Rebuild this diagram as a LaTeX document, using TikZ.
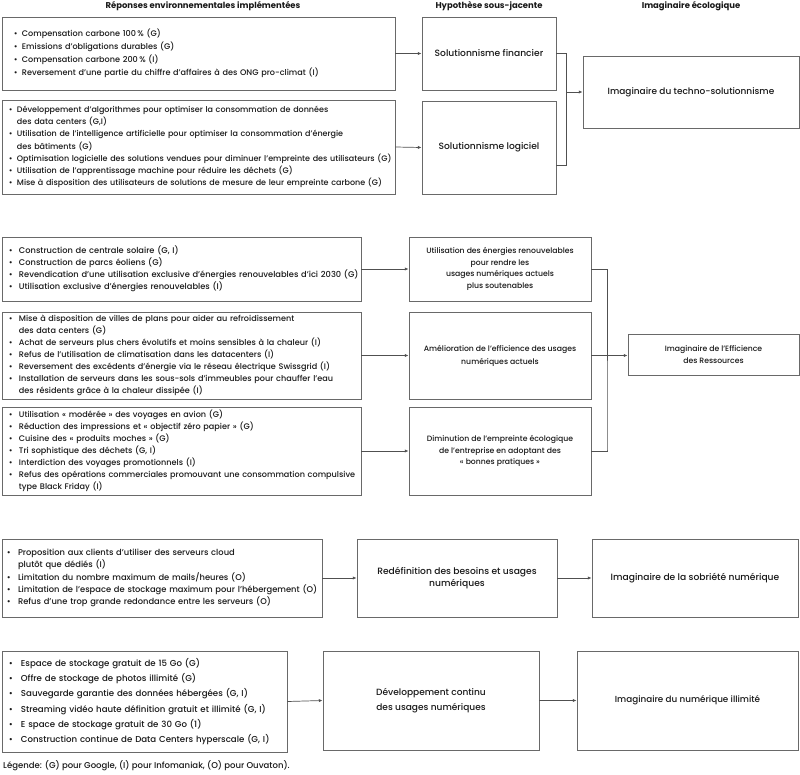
\documentclass[tikz,border=0pt]{standalone}
\usepackage{fontspec}
\IfFontExistsTF{Poppins Medium}{\setmainfont{Poppins Medium}[BoldFont={Poppins Bold}]\def\fk{0.975}}{\setmainfont{Poppins}\def\fk{1}}
\usetikzlibrary{arrows.meta}
\definecolor{boxgray}{RGB}{105,105,105}
\definecolor{linegray}{RGB}{80,80,80}
\definecolor{txt}{RGB}{25,25,25}
\newlength\bw
\newcommand\fs[2]{\fontsize{\fpeval{#1*\fk}}{#2}\selectfont}
\newcommand\B[1]{\makebox[\bw][l]{\textbullet}\mbox{#1}}
\newcommand\C[1]{\hspace*{\bw}\mbox{#1}}
\newcommand\lbox[8]{%
  \pgfmathsetmacro\tw{(#4-#2-2*#6)*0.03}%
  \pgfmathsetmacro\xs{#6*0.03}%
  \pgfmathsetmacro\mh{(#5-#3)*0.03}%
  \node[lbox, inner xsep=\xs cm, text width=\tw cm, minimum height=\mh cm, font=#7] (#1) at ({(#2+#4)/2},{(#3+#5)/2}) {#8};}
\newcommand\cbox[7]{%
  \pgfmathsetmacro\mw{(#4-#2)*0.03}%
  \pgfmathsetmacro\mh{(#5-#3)*0.03}%
  \node[cbox, minimum width=\mw cm, minimum height=\mh cm, font=#6] (#1) at ({(#2+#4)/2},{(#3+#5)/2}) {#7};}
\tikzset{
  lbox/.style={draw=boxgray, line width=0.8pt, inner ysep=0pt, align=left, text=txt},
  cbox/.style={draw=boxgray, line width=0.8pt, inner sep=0pt, align=center, text=txt},
  hdr/.style={font=\bfseries\fs{7.4}{9}, text=txt, inner sep=0pt},
  conn/.style={draw=linegray, line width=0.6pt},
  arr/.style={conn, -{Latex[length=3.2pt,width=2.8pt]}}
}
\begin{document}
\begin{tikzpicture}[x=0.03cm,y=-0.03cm]
\fill[white] (0,0) rectangle (800,775);
\useasboundingbox (0,0) rectangle (800,775);

% headers
\node[hdr] (hdA) at (203,6) {Réponses environnementales implémentées};
\node[hdr] (hdB) at (489,6) {Hypothèse sous-jacente};
\node[hdr] (hdC) at (691,6) {Imaginaire écologique};

% ---- section 1
\lbox{A1}{2}{17}{395}{90}{12}{\fs{7.1}{11.05}\setlength\bw{6.8pt}}{%
\B{Compensation carbone 100\,\% (G)}\\
\B{Emissions d’obligations durables (G)}\\
\B{Compensation carbone 200\,\% (I)}\\
\B{Reversement d’une partie du chiffre d’affaires à des ONG pro-climat (I)}}
\lbox{A2}{2}{100}{395}{194}{7}{\fs{7.0}{10.46}\setlength\bw{6.8pt}}{%
\B{Développement d’algorithmes pour optimiser la consommation de données}\\
\C{des data centers (G,I)}\\
\B{Utilisation de l’intelligence artificielle pour optimiser la consommation d’énergie}\\
\C{des bâtiments (G)}\\
\B{Optimisation logicielle des solutions vendues pour diminuer l’empreinte des utilisateurs (G)}\\
\B{Utilisation de l’apprentissage machine pour réduire les déchets (G)}\\
\B{Mise à disposition des utilisateurs de solutions de mesure de leur empreinte carbone (G)}}
\cbox{H1}{422}{17}{556}{90}{\fs{8.0}{11}}{Solutionnisme financier}
\cbox{H2}{422}{101}{556}{194}{\fs{8.0}{11}}{Solutionnisme logiciel}
\cbox{I1}{583}{56}{799}{128}{\fs{7.85}{11}}{Imaginaire du techno-solutionnisme}

\draw[arr] (A1.east) -- (H1.west);
\draw[arr] (A2.east) -- (H2.west);
\coordinate (j1) at (566,165);
\draw[conn] (H1.east) -| (j1) -- (j1 -| H2.east);
\draw[arr] (j1 |- I1.west) -- (I1.west);

% ---- section 2
\lbox{B1}{2}{237}{361}{301}{7}{\fs{7.25}{10.2}\setlength\bw{8.5pt}}{%
\B{Construction de centrale solaire (G, I)}\\
\B{Construction de parcs éoliens (G)}\\
\B{Revendication d’une utilisation exclusive d’énergies renouvelables d’ici 2030 (G)}\\
\B{Utilisation exclusive d’énergies renouvelables (I)}}
\lbox{B2}{2}{312}{361}{399}{7}{\fs{7.1}{10.2}\setlength\bw{8.5pt}}{%
\B{Mise à disposition de villes de plans pour aider au refroidissement}\\
\C{des data centers (G)}\\
\B{Achat de serveurs plus chers évolutifs et moins sensibles à la chaleur (I)}\\
\B{Refus de l’utilisation de climatisation dans les datacenters (I)}\\
\B{Reversement des excédents d’énergie via le réseau électrique Swissgrid (I)}\\
\B{Installation de serveurs dans les sous-sols d’immeubles pour chauffer l’eau}\\
\C{des résidents grâce à la chaleur dissipée (I)}}
\lbox{B3}{2}{407}{361}{495}{7}{\fs{7.1}{10.2}\setlength\bw{8.5pt}}{%
\B{Utilisation «~modérée~» des voyages en avion (G)}\\
\B{Réduction des impressions et «~objectif zéro papier~» (G)}\\
\B{Cuisine des «~produits moches~» (G)}\\
\B{Tri sophistique des déchets (G, I)}\\
\B{Interdiction des voyages promotionnels (I)}\\
\B{Refus des opérations commerciales promouvant une consommation compulsive}\\
\C{type Black Friday (I)}}
\cbox{H3}{409}{237}{591}{301}{\fs{6.75}{10}}{Utilisation des énergies renouvelables\\pour rendre les\\usages numériques actuels\\plus soutenables}
\cbox{H4}{409}{312}{591}{399}{\fs{6.75}{11}}{Amélioration de l’efficience des usages\\numériques actuels}
\cbox{H5}{409}{407}{591}{495}{\fs{6.75}{9.8}}{Diminution de l’empreinte écologique\\de l’entreprise en adoptant des\\«~bonnes pratiques~»}
\cbox{I2}{628}{334}{799}{375}{\fs{6.75}{10.2}}{Imaginaire de l’Efficience\\des Ressources}

\draw[arr] (B1.east) -- (H3.west);
\draw[arr] (B2.east) -- (H4.west);
\draw[arr] (B3.east) -- (H5.west);
\coordinate (j2) at (607,450);
\draw[conn] (H3.east) -| (j2) |- (H5.east);
\draw[arr] (H4.east) -- (H4.east -| I2.west);

% ---- section 3
\lbox{C1}{2}{539}{322}{617}{5}{\fs{7.3}{10.6}\setlength\bw{9.4pt}}{%
\B{Proposition aux clients d’utiliser des serveurs cloud}\\
\C{plutôt que dédiés (I)}\\
\B{Limitation du nombre maximum de mails/heures (O)}\\
\B{Limitation de l’espace de stockage maximum pour l’hébergement (O)}\\
\B{Refus d’une trop grande redondance entre les serveurs (O)}}
\cbox{H6}{357}{539}{557}{617}{\fs{8.0}{11}}{Redéfinition des besoins et usages\\numériques}
\cbox{I3}{592}{539}{798}{617}{\fs{8.0}{11}}{Imaginaire de la sobriété numérique}
\draw[arr] (C1.east) -- (H6.west);
\draw[arr] (H6.east) -- (I3.west);

% ---- section 4
\lbox{D1}{2}{651}{287}{752}{7}{\fs{7.55}{13.1}\setlength\bw{10.2pt}}{%
\B{Espace de stockage gratuit de 15 Go (G)}\\
\B{Offre de stockage de photos illimité (G)}\\
\B{Sauvegarde garantie des données hébergées (G, I)}\\
\B{Streaming vidéo haute définition gratuit et illimité (G, I)}\\
\B{E space de stockage gratuit de 30 Go (1)}\\
\B{Construction continue de Data Centers hyperscale (G, I)}}
\cbox{H7}{323}{651}{539}{750}{\fs{7.9}{12.8}}{Développement continu\\des usages numériques}
\cbox{I4}{577}{651}{798}{750}{\fs{7.7}{11}}{Imaginaire du numérique illimité}
\draw[arr] (D1.east) -- (H7.west);
\draw[arr] (H7.east) -- (I4.west);

\node[anchor=west, inner sep=0pt, font=\fs{7.45}{9}, text=txt] (leg) at (3,766) {Légende: (G) pour Google, (I) pour Infomaniak, (O) pour Ouvaton).};
\end{tikzpicture}
\end{document}
